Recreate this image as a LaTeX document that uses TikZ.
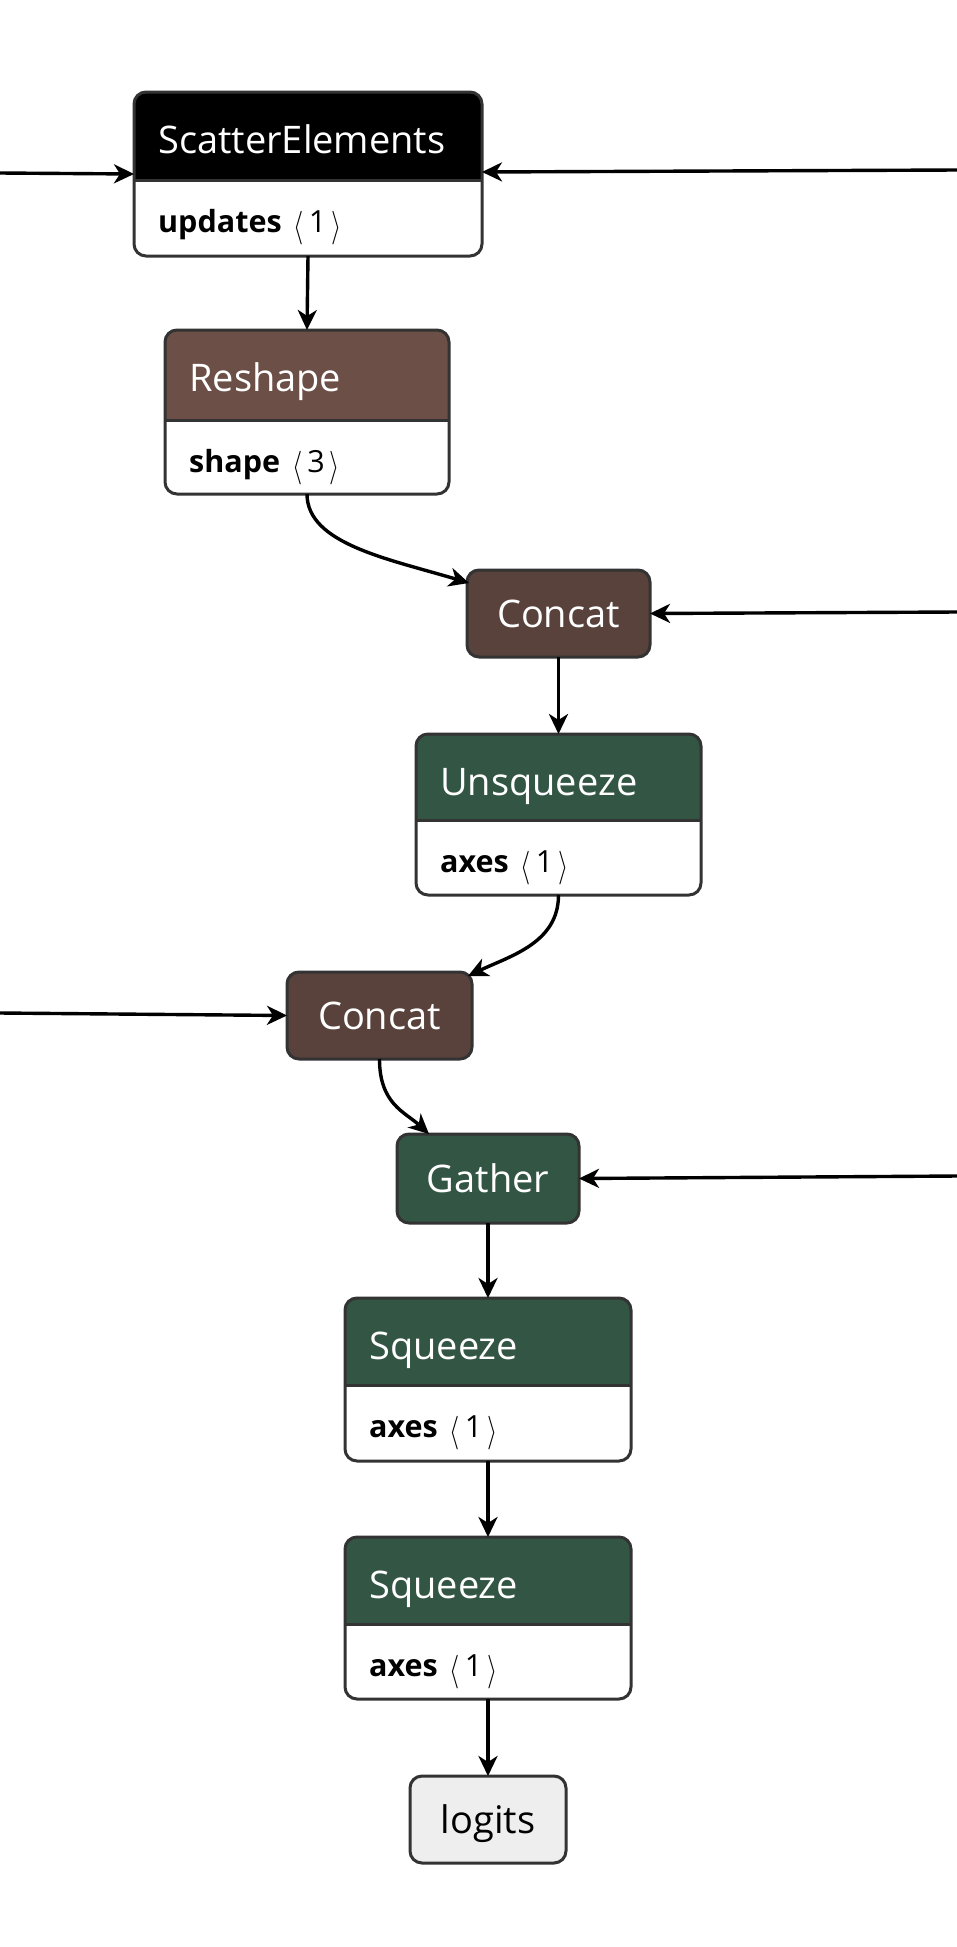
\documentclass[tikz,border=0pt]{standalone}
\usepackage{fontspec}
\setmainfont{Open Sans}
\usetikzlibrary{arrows.meta}
\definecolor{bordercol}{HTML}{333333}
\definecolor{shapecol}{HTML}{6C4F47}
\definecolor{tensorcol}{HTML}{59423B}
\definecolor{transcol}{HTML}{335544}
\definecolor{iocol}{HTML}{EEEEEE}
\newcommand\lang{\hspace{12pt}\raisebox{-4pt}{\scalebox{1.05}[1.35]{$\langle$}}\hspace{5pt}}
\newcommand\rang{\hspace{5pt}\raisebox{-4pt}{\scalebox{1.05}[1.35]{$\rangle$}}}
\tikzset{
  opbox/.style={draw=bordercol, line width=3pt, rounded corners=12pt, fill=white, inner sep=0pt, outer sep=0pt},
  single/.style={opbox, font=\fontsize{38pt}{45pt}\selectfont, text height=27pt, text depth=0pt},
  titletext/.style={inner sep=0pt, text=white, font=\fontsize{38pt}{45pt}\selectfont},
  attrtext/.style={inner sep=0pt, text=black, font=\fontsize{30.5pt}{36pt}\selectfont},
  edge/.style={draw=black, line width=3.4pt, -{Stealth[length=20pt,width=19pt,inset=6pt]}},
}
% #1 name, #2 cx, #3 top, #4 height, #5 header height, #6 width, #7 colour, #8 title, #9 attribute
\newcommand\opnode[9]{%
  \node[opbox, minimum width=#6pt, minimum height=#4pt, anchor=north,
        path picture={\fill[#7, sharp corners] (path picture bounding box.north west) rectangle ([yshift=-#5pt]path picture bounding box.north east);
                      \draw[bordercol, line width=3pt, sharp corners] ([yshift=-#5pt]path picture bounding box.north west) -- ([yshift=-#5pt]path picture bounding box.north east);}]
        (#1) at (#2,#3) {};
  \node[titletext, anchor=base west] (#1-title) at ([xshift=24pt,yshift=-61pt]#1.north west) {#8};
  \node[attrtext, anchor=base west] (#1-attr) at ([xshift=24pt,yshift=-#5pt-52pt]#1.north west) {#9};
}
\begin{document}
\begin{tikzpicture}[x=1pt,y=-1pt]
\useasboundingbox[fill=white] (0,0) rectangle (957,1947);

\opnode{se}{308}{92}{164}{88}{348}{black}{ScatterElements}{\textbf{updates}\lang 1\rang}
\opnode{rs}{307}{330}{164}{90}{284}{shapecol}{Reshape}{\textbf{shape}\lang 3\rang}
\node[single, fill=tensorcol, text=white, minimum width=183pt, minimum height=87pt] (c1) at (558.5,613.5) {Concat};
\opnode{un}{558.5}{734}{161}{86}{285}{transcol}{Unsqueeze}{\textbf{axes}\lang 1\rang}
\node[single, fill=tensorcol, text=white, minimum width=185pt, minimum height=87pt] (c2) at (379.5,1015.5) {Concat};
\node[single, fill=transcol, text=white, minimum width=182pt, minimum height=89pt] (ga) at (488,1178.5) {Gather};
\opnode{sq1}{488}{1298}{163}{87}{286}{transcol}{Squeeze}{\textbf{axes}\lang 1\rang}
\opnode{sq2}{488}{1537}{162}{87}{286}{transcol}{Squeeze}{\textbf{axes}\lang 1\rang}
\node[single, fill=iocol, text=black, minimum width=156pt, minimum height=87pt] (lg) at (488,1819.5) {logits};

\coordinate (inA) at (0,173);
\coordinate (inB) at (957,170);
\coordinate (inC) at (957,612);
\coordinate (inD) at (0,1013);
\coordinate (inE) at (957,1176);

\draw[edge] (inA) -- ([yshift=-82pt]se.north west);
\draw[edge] (inB) -- ([yshift=-80pt]se.north east);
\draw[edge] (se.south) -- (rs.north);
\draw[edge] (rs.south) .. controls +(0,50) and +(-80,-24) .. ([shift={(2pt,-13pt)}]c1.north west);
\draw[edge] (inC) -- (c1.east);
\draw[edge] (c1.south) -- (un.north);
\draw[edge] (un.south) .. controls +(0,48) and +(42,-20) .. ([shift={(-4pt,-4pt)}]c2.north east);
\draw[edge] (inD) -- (c2.west);
\draw[edge] (c2.south) .. controls +(0,45) and +(-24,-22) .. ([xshift=32pt]ga.north west);
\draw[edge] (inE) -- (ga.east);
\draw[edge] (ga.south) -- (sq1.north);
\draw[edge] (sq1.south) -- (sq2.north);
\draw[edge] (sq2.south) -- (lg.north);
\end{tikzpicture}
\end{document}
